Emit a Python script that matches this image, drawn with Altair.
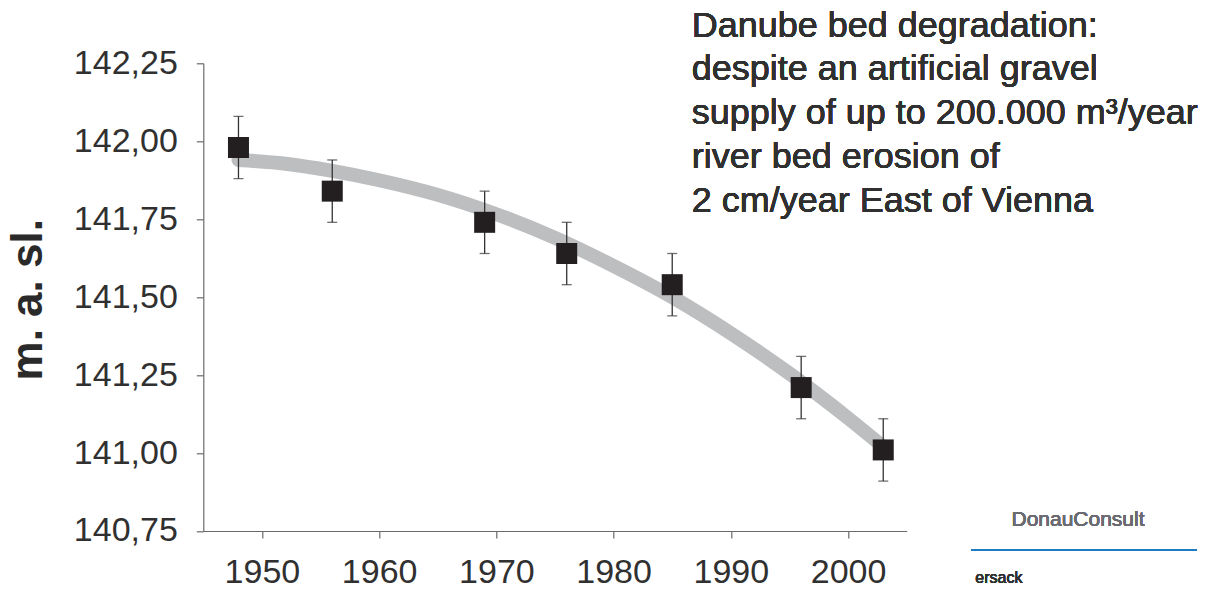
import altair as alt
import pandas as pd

# Measured survey points (year, river bed level in m a.s.l.)
years = [1948, 1956, 1969, 1976, 1985, 1996, 2003]
levels = [141.98, 141.84, 141.74, 141.64, 141.54, 141.21, 141.01]
errors = [0.10, 0.10, 0.10, 0.10, 0.10, 0.10, 0.10]

# Grey trend curve
trend_years = [1948, 1952, 1956, 1960, 1965, 1970, 1975, 1980, 1985, 1990, 1995, 2000, 2003]
trend_levels = [141.940, 141.928, 141.905, 141.875, 141.828, 141.766, 141.690, 141.600,
                141.500, 141.384, 141.255, 141.112, 141.020]

y_ticks = [140.75, 141.00, 141.25, 141.50, 141.75, 142.00, 142.25]
x_ticks = [1950, 1960, 1970, 1980, 1990, 2000]

note_lines = [
    "Danube bed degradation:",
    "despite an artificial gravel",
    "supply of up to 200.000 m³/year",
    "river bed erosion of",
    "2 cm/year East of Vienna",
]
brand = "DonauConsult"
author = "ersack"

pts = pd.DataFrame({"year": years, "level": levels, "err": errors})
pts["lo"] = pts["level"] - pts["err"]
pts["hi"] = pts["level"] + pts["err"]
trend = pd.DataFrame({"year": trend_years, "level": trend_levels})

FONT = "Liberation Sans"
TXT = "#303030"
W, H = 703.4, 467.7

xscale = alt.Scale(domain=[1945, 2005], nice=False, zero=False)
yscale = alt.Scale(domain=[140.75, 142.25], nice=False, zero=False)

xaxis = alt.Axis(values=x_ticks, format="d", title=None, grid=False,
                 labelFontSize=34, labelPadding=18, tickSize=7)
yaxis = alt.Axis(values=y_ticks, grid=False, title="m. a. sl.",
                 labelExpr="replace(format(datum.value, '.2f'), '.', ',')",
                 labelFontSize=34, labelPadding=19, tickSize=7,
                 titleFontSize=44, titleFontWeight="bold", titleFont=FONT,
                 titleColor="#2a2a2a", titleAngle=270, titleBaseline="alphabetic",
                 titleAlign="center", titleX=-161.6, titleY=236)

line = alt.Chart(trend).mark_line(
    color="#bdbec0", strokeWidth=14, strokeCap="round", interpolate="monotone"
).encode(
    x=alt.X("year:Q", scale=xscale, axis=xaxis),
    y=alt.Y("level:Q", scale=yscale, axis=yaxis),
)

rules = alt.Chart(pts).mark_rule(color="#333333", strokeWidth=1.3).encode(
    x="year:Q", y="lo:Q", y2="hi:Q"
)
caps_lo = alt.Chart(pts).mark_tick(color="#333333", orient="horizontal",
                                   size=10, thickness=1.3).encode(x="year:Q", y="lo:Q")
caps_hi = alt.Chart(pts).mark_tick(color="#333333", orient="horizontal",
                                   size=10, thickness=1.3).encode(x="year:Q", y="hi:Q")

squares = alt.Chart(pts).mark_point(
    shape="square", filled=True, size=441, color="#231f20", opacity=1, strokeWidth=0
).encode(x="year:Q", y="level:Q")

note = alt.Chart(pts).mark_text(
    align="left", baseline="alphabetic", font=FONT, fontSize=36, fontWeight="normal",
    lineHeight=43.75, color=TXT
).encode(x=alt.value(488.4), y=alt.value(-26.6), text=alt.value(note_lines))

brand_txt = alt.Chart(pts).mark_text(
    align="center", baseline="middle", font=FONT, fontSize=21, fontWeight="normal",
    color="#6a6b71"
).encode(x=alt.value(874.7), y=alt.value(456.7), text=alt.value(brand))

brand_rule = alt.Chart(pts).mark_rule(color="#1f7bc1", strokeWidth=1.5).encode(
    x=alt.value(767.7), x2=alt.value(993.4), y=alt.value(486.7)
)

author_txt = alt.Chart(pts).mark_text(
    align="left", baseline="middle", font=FONT, fontSize=16, fontWeight="normal",
    color=TXT
).encode(x=alt.value(772), y=alt.value(514.7), text=alt.value(author))

chart = alt.layer(
    line, rules, caps_lo, caps_hi, squares, note, brand_txt, brand_rule, author_txt
).properties(
    width=W, height=H,
    autosize=alt.AutoSizeParams(type="none"),
    padding={"left": 195.3, "top": 55.3, "right": 300, "bottom": 58},
).configure_view(strokeWidth=0).configure_axis(
    labelFont=FONT, labelColor=TXT, labelFontWeight="normal", tickColor="#6a6a6a",
    domainColor="#6a6a6a", domainWidth=1.2, tickWidth=1.2
)

chart.save("out.html", embed_options={"renderer": "svg", "actions": False})
